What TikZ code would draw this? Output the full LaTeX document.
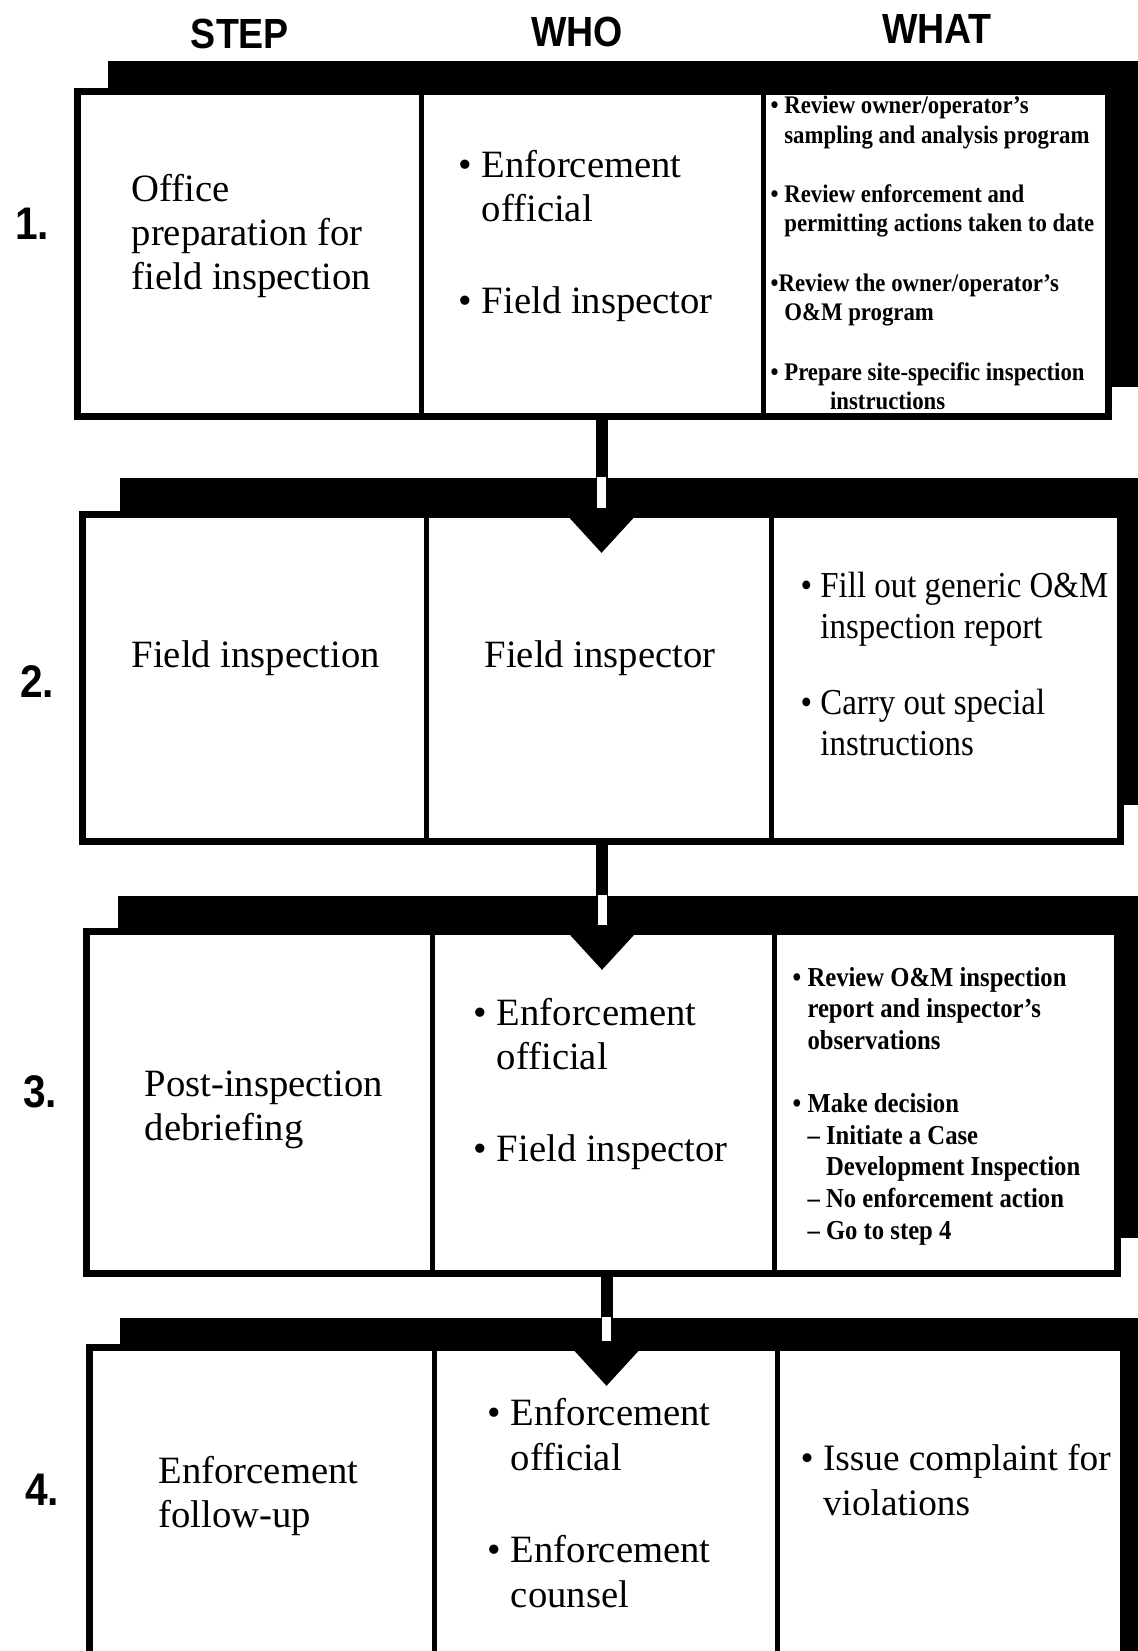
\documentclass[tikz,border=0pt]{standalone}
\usepackage{fontspec}
\setmainfont{Liberation Serif}
\newfontfamily\headfont[FakeStretch=0.89]{Liberation Sans}
\newfontfamily\narrowfont[FakeStretch=0.9,Ligatures=TeX]{Liberation Serif}
\usetikzlibrary{shadows,arrows.meta}
\newcommand\bult{\textbullet\ }
\newcommand\indt{\phantom{\textbullet\ }}

\begin{document}
\begin{tikzpicture}[
    head/.style={font=\headfont\bfseries\fontsize{12}{14}\selectfont},
    num/.style={font=\headfont\bfseries\fontsize{13}{15}\selectfont},
    rowbox/.style 2 args={draw, line width=0.07cm, fill=white, inner sep=0pt,
      general shadow={fill=black, shadow xshift=#1, shadow yshift=#2}},
    divider/.style={line width=0.05cm},
    big/.style={anchor=west, align=left, inner sep=0pt,
      font=\fontsize{11}{12.6}\selectfont},
    small/.style={anchor=west, align=left, inner sep=0pt},
    link/.style={line width=0.12cm, -{Triangle[length=0.42cm,width=0.74cm]}},
    gap/.style={white, line width=0.09cm}]
  \useasboundingbox (0,0) rectangle (11.38,-16.51);

  \node[head] (hstep) at (2.40,-0.34) {STEP};
  \node[head] (hwho) at (5.77,-0.32) {WHO};
  \node[head] (hwhat) at (9.37,-0.29) {WHAT};

  % the four rows
  \node[rowbox={0.30cm}{0.30cm}, minimum width=10.31cm, minimum height=3.25cm]
    (r1) at (5.93,-2.54) {};
  \node[rowbox={0.37cm}{0.37cm}, minimum width=10.38cm, minimum height=3.27cm]
    (r2) at (6.015,-6.78) {};
  \node[rowbox={0.31cm}{0.36cm}, minimum width=10.31cm, minimum height=3.42cm]
    (r3) at (6.02,-11.025) {};
  \node[rowbox={0.30cm}{0.30cm}, minimum width=10.34cm, minimum height=3.725cm]
    (r4) at (6.065,-15.3375) {};

  \draw[divider] (4.21,0 |- r1.north) -- (4.21,0 |- r1.south)
    (7.63,0 |- r1.north) -- (7.63,0 |- r1.south);
  \draw[divider] (4.26,0 |- r2.north) -- (4.26,0 |- r2.south)
    (7.71,0 |- r2.north) -- (7.71,0 |- r2.south);
  \draw[divider] (4.32,0 |- r3.north) -- (4.32,0 |- r3.south)
    (7.74,0 |- r3.north) -- (7.74,0 |- r3.south);
  \draw[divider] (4.34,0 |- r4.north) -- (4.34,0 |- r4.south)
    (7.77,0 |- r4.north) -- (7.77,0 |- r4.south);

  \node[num] (n1) at (0.32,-2.24) {1.};
  \node[num] (n2) at (0.37,-6.82) {2.};
  \node[num] (n3) at (0.40,-10.92) {3.};
  \node[num] (n4) at (0.42,-14.90) {4.};

  % step 1
  \node[big] (s1) at (1.31,-2.36) {Office\\preparation for\\field inspection};
  \node[big] (w1) at (4.58,-2.36) {\bult Enforcement\\\indt official\\[13.5pt]
    \bult Field inspector};
  \node[small, font=\narrowfont\bfseries\fontsize{7.2}{8.4}\selectfont] (t1)
    at (7.70,-2.53) {\bult Review owner/operator's\\
    \indt sampling and analysis program\\[8.5pt]
    \bult Review enforcement and\\
    \indt permitting actions taken to date\\[8.5pt]
    \textbullet Review the owner/operator's\\
    \indt O\&M program\\[8.5pt]
    \bult Prepare site-specific inspection\\
    \indt\hspace*{13pt}instructions};

  % step 2
  \node[big] (s2) at (1.31,-6.58) {Field inspection};
  \node[big] (w2) at (4.84,-6.58) {Field inspector};
  \node[big, font=\narrowfont\fontsize{10.4}{11.4}\selectfont] (t2) at (8.00,-6.64)
    {\bult Fill out generic O\&M\\\indt inspection report\\[10.5pt]
    \bult Carry out special\\\indt instructions};

  % step 3
  \node[big] (s3) at (1.44,-11.10) {Post-inspection\\debriefing};
  \node[big] (w3) at (4.73,-10.84) {\bult Enforcement\\\indt official\\[13.5pt]
    \bult Field inspector};
  \node[small, font=\narrowfont\bfseries\fontsize{7.8}{9}\selectfont] (t3)
    at (7.92,-11.06) {\bult Review O\&M inspection\\
    \indt report and inspector's\\
    \indt observations\\[9pt]
    \bult Make decision\\
    \indt -- Initiate a Case\\
    \indt\phantom{-- }Development Inspection\\
    \indt -- No enforcement action\\
    \indt -- Go to step 4};

  % step 4
  \node[big] (s4) at (1.58,-14.96) {Enforcement\\follow-up};
  \node[big] (w4) at (4.87,-15.03) {\bult Enforcement\\\indt official\\[13.8pt]
    \bult Enforcement\\\indt counsel};
  \node[big, font=\fontsize{10.6}{12.6}\selectfont] (t4) at (8.00,-14.80)
    {\bult Issue complaint for\\\indt violations};

  % connectors
  \coordinate (h2) at ([yshift=-0.42cm]r2.north);
  \coordinate (h3) at ([yshift=-0.42cm]r3.north);
  \coordinate (h4) at ([yshift=-0.42cm]r4.north);
  \draw[link] (r1.south -| h2) -- (h2);
  \draw[link] (r2.south -| h3) -- (h3);
  \draw[link] (r3.south -| h4) -- (h4);
  \draw[gap] ([yshift=0.34cm]r2.north) -- ([yshift=0.035cm]r2.north);
  \draw[gap] ([yshift=0.33cm]r3.north) -- ([yshift=0.035cm]r3.north);
  \draw[gap] ([yshift=0.27cm]r4.north) -- ([yshift=0.035cm]r4.north);
\end{tikzpicture}
\end{document}
